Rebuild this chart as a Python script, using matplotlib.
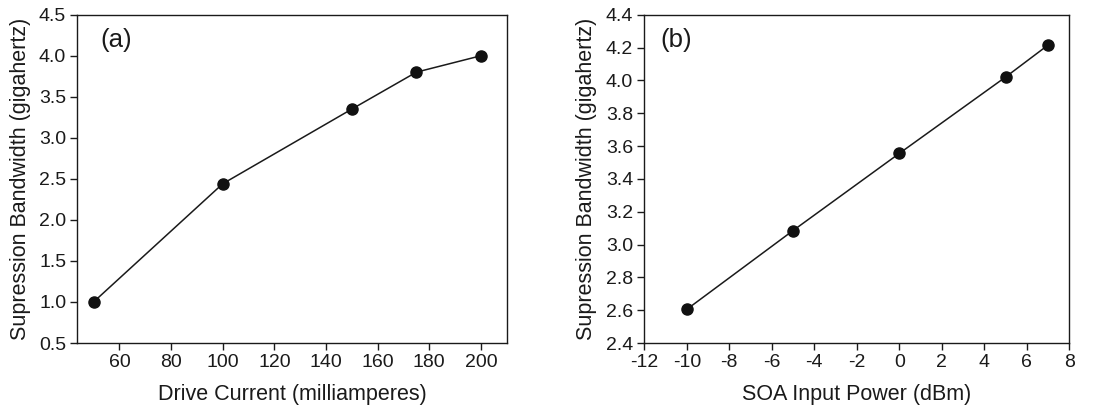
import matplotlib
matplotlib.use("Agg")
import matplotlib.pyplot as plt

plt.rcParams['font.family'] = ['Liberation Sans', 'DejaVu Sans']

# Panel (a)
drive_current = [50, 100, 150, 175, 200]
bandwidth_a = [1.00, 2.44, 3.35, 3.80, 4.00]
xticks_a = [60, 80, 100, 120, 140, 160, 180, 200]
yticks_a = [0.5, 1.0, 1.5, 2.0, 2.5, 3.0, 3.5, 4.0, 4.5]

# Panel (b)
soa_power = [-10, -5, 0, 5, 7]
bandwidth_b = [2.605, 3.085, 3.555, 4.02, 4.215]
xticks_b = [-12, -10, -8, -6, -4, -2, 0, 2, 4, 6, 8]
yticks_b = [2.4, 2.6, 2.8, 3.0, 3.2, 3.4, 3.6, 3.8, 4.0, 4.2, 4.4]

fig = plt.figure(figsize=(11.15, 4.13), dpi=100)
W, H = 1115, 413
ax1 = fig.add_axes([77.3/W, 1-343/H, (507.3-77.3)/W, (343-14.7)/H])
ax2 = fig.add_axes([644.3/W, 1-343/H, (1069.3-644.3)/W, (343-14.7)/H])

tfs = 14
lfs = 15.5
col = '#1a1a1a'
for ax, x, y, xt, yt, xl, yl, lab, lx in [
    (ax1, drive_current, bandwidth_a, xticks_a, yticks_a, (43.7, 210.2), (0.5, 4.5), '(a)', 0.054),
    (ax2, soa_power, bandwidth_b, xticks_b, yticks_b, (-12, 8), (2.4, 4.4), '(b)', 0.039),
]:
    ax.plot(x, y, color=col, lw=1.1, marker='o', ms=8,
            markerfacecolor='#111111', markeredgecolor='#111111')
    ax.set_xlim(*xl)
    ax.set_ylim(*yl)
    ax.set_xticks(xt)
    ax.set_yticks(yt)
    ax.set_xticklabels([str(v) for v in xt])
    ax.set_yticklabels([f'{v:.1f}' for v in yt])
    ax.tick_params(direction='out', length=5, width=1, labelsize=tfs, colors=col, pad=3)
    for s in ax.spines.values():
        s.set_linewidth(1)
        s.set_color(col)
    ax.set_ylabel('Supression Bandwidth (gigahertz)', fontsize=lfs, color=col, labelpad=6)
    ax.text(lx, 0.903, lab, transform=ax.transAxes, fontsize=18.5, va='baseline', ha='left', color=col)

ax1.set_xlabel('Drive Current (milliamperes)', fontsize=lfs, color=col, labelpad=9)
ax2.set_xlabel('SOA Input Power (dBm)', fontsize=lfs, color=col, labelpad=9)

fig.savefig('out.png', dpi=100)
